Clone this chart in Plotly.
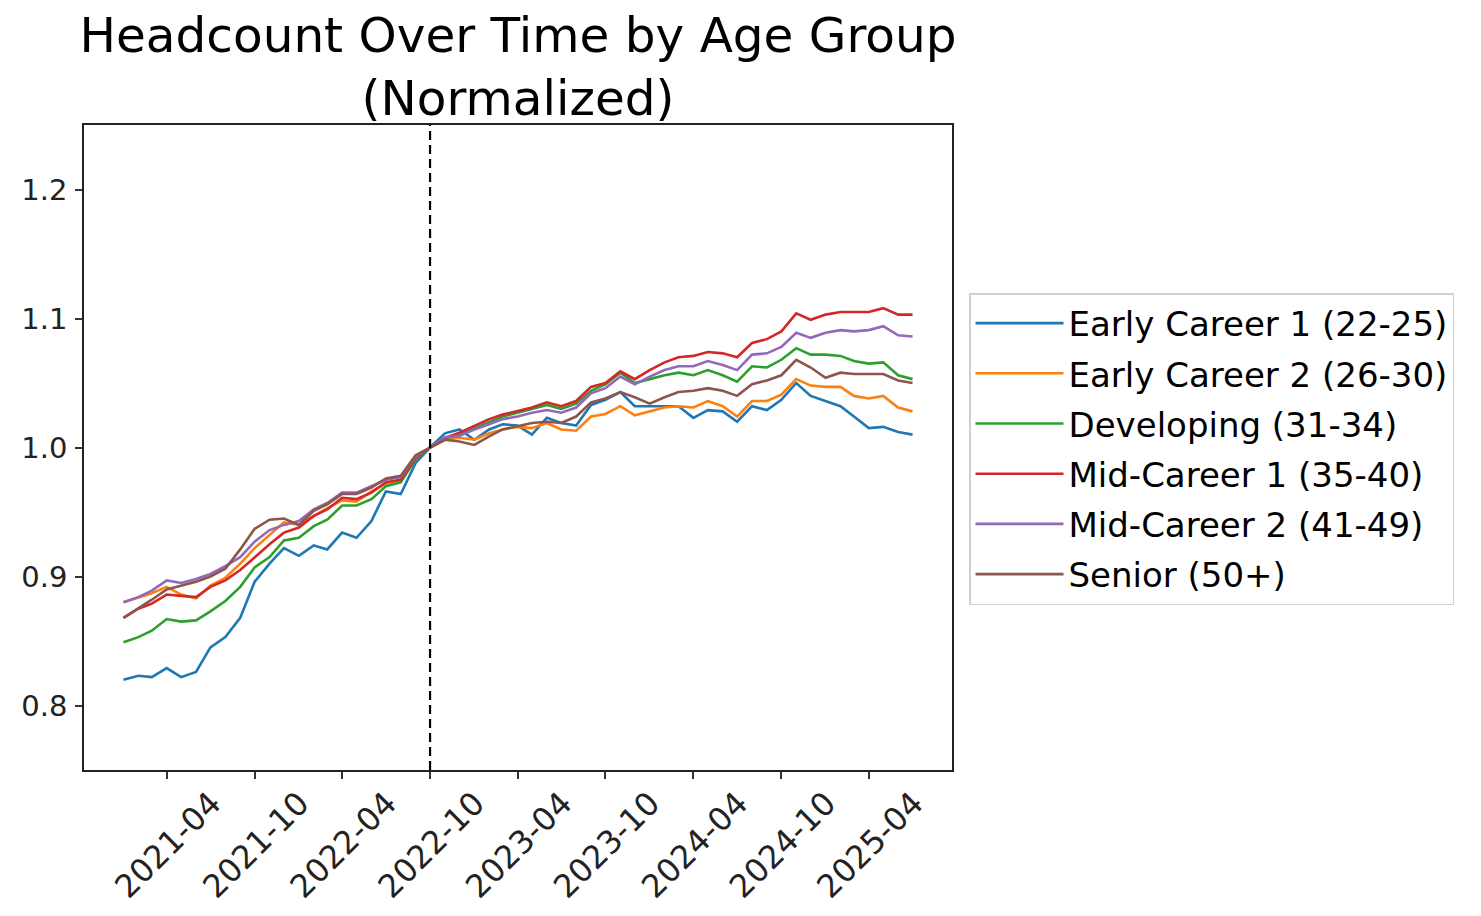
import pandas as pd
import plotly.graph_objects as go

# ---------------- data ----------------
months = pd.date_range("2021-01-01", periods=55, freq="MS")
cutoff_date = "2022-10-01"

series_names = [
    "Early Career 1 (22-25)",
    "Early Career 2 (26-30)",
    "Developing (31-34)",
    "Mid-Career 1 (35-40)",
    "Mid-Career 2 (41-49)",
    "Senior (50+)",
]

early_career_1 = [
    0.820, 0.823, 0.822, 0.829, 0.822, 0.826, 0.845, 0.853, 0.868, 0.896,
    0.910, 0.922, 0.916, 0.924, 0.921, 0.934, 0.930, 0.943, 0.966, 0.964,
    0.988, 1.000, 1.011, 1.014, 1.006, 1.014, 1.018, 1.017, 1.010, 1.023,
    1.019, 1.017, 1.033, 1.037, 1.043, 1.032, 1.032, 1.032, 1.032, 1.023,
    1.029, 1.028, 1.020, 1.032, 1.029, 1.037, 1.050, 1.040, 1.036, 1.032,
    1.024, 1.015, 1.016, 1.012, 1.010,
]
early_career_2 = [
    0.880, 0.884, 0.887, 0.892, 0.886, 0.883, 0.893, 0.899, 0.910, 0.922,
    0.932, 0.942, 0.940, 0.947, 0.953, 0.959, 0.958, 0.966, 0.972, 0.975,
    0.991, 1.000, 1.006, 1.0075, 1.006, 1.011, 1.014, 1.016, 1.015, 1.019,
    1.014, 1.013, 1.024, 1.026, 1.032, 1.025, 1.028, 1.031, 1.032, 1.031,
    1.036, 1.032, 1.024, 1.036, 1.036, 1.041, 1.053, 1.048, 1.047, 1.047,
    1.040, 1.038, 1.040, 1.031, 1.028,
]
developing = [
    0.849, 0.853, 0.858, 0.867, 0.865, 0.866, 0.873, 0.881, 0.892, 0.907,
    0.915, 0.928, 0.930, 0.939, 0.944, 0.955, 0.955, 0.960, 0.970, 0.973,
    0.991, 1.000, 1.007, 1.010, 1.015, 1.020, 1.024, 1.027, 1.030, 1.033,
    1.030, 1.034, 1.044, 1.049, 1.058, 1.050, 1.053, 1.056, 1.058, 1.056,
    1.060, 1.056, 1.051, 1.063, 1.062, 1.068, 1.077, 1.072, 1.072, 1.071,
    1.067, 1.065, 1.066, 1.056, 1.053,
]
mid_career_1 = [
    0.868, 0.875, 0.879, 0.886, 0.885, 0.884, 0.892, 0.897, 0.905, 0.915,
    0.925, 0.934, 0.938, 0.947, 0.952, 0.961, 0.960, 0.965, 0.973, 0.975,
    0.992, 1.000, 1.0075, 1.0115, 1.0165, 1.022, 1.0255, 1.028, 1.031, 1.035,
    1.032, 1.036, 1.047, 1.050, 1.059, 1.053, 1.060, 1.066, 1.070, 1.071,
    1.074, 1.073, 1.070, 1.081, 1.084, 1.090, 1.104, 1.099, 1.103, 1.105,
    1.105, 1.105, 1.108, 1.103, 1.103,
]
mid_career_2 = [
    0.880, 0.884, 0.889, 0.897, 0.895, 0.898, 0.902, 0.908, 0.915, 0.927,
    0.936, 0.940, 0.943, 0.952, 0.957, 0.965, 0.965, 0.970, 0.975, 0.977,
    0.993, 1.000, 1.008, 1.009, 1.014, 1.018, 1.022, 1.024, 1.027, 1.029,
    1.027, 1.031, 1.042, 1.046, 1.055, 1.049, 1.055, 1.060, 1.063, 1.063,
    1.067, 1.064, 1.060, 1.072, 1.073, 1.078, 1.089, 1.085, 1.089, 1.091,
    1.090, 1.091, 1.094, 1.087, 1.086,
]
senior = [
    0.868, 0.875, 0.882, 0.890, 0.893, 0.896, 0.900, 0.906, 0.921, 0.937,
    0.944, 0.945, 0.940, 0.951, 0.956, 0.964, 0.964, 0.969, 0.976, 0.978,
    0.994, 1.000, 1.006, 1.0046, 1.002, 1.0087, 1.014, 1.0165, 1.019, 1.020,
    1.019, 1.024, 1.035, 1.038, 1.043, 1.039, 1.034, 1.039, 1.043, 1.044,
    1.046, 1.044, 1.040, 1.049, 1.052, 1.056, 1.068, 1.062, 1.054, 1.058,
    1.057, 1.057, 1.057, 1.052, 1.050,
]

all_series = [early_career_1, early_career_2, developing,
              mid_career_1, mid_career_2, senior]
colors = ["#1f77b4", "#ff7f0e", "#2ca02c", "#d62728", "#9467bd", "#8c564b"]

y_ticks = [0.8, 0.9, 1.0, 1.1, 1.2]
x_tick_dates = pd.date_range("2021-04-01", "2025-04-01", freq="6MS")

# ---------------- figure ----------------
FONT = "DejaVu Sans"
W, H = 1465, 900
L, R, T, B = 76, 944, 117, 762  # plot area in figure pixels

fig = go.Figure()
for name, vals, col in zip(series_names, all_series, colors):
    fig.add_trace(go.Scatter(
        x=months, y=vals, mode="lines", name=name,
        legendgroup=name,
        line=dict(color=col, width=2.6),
    ))

fig.add_vline(x=cutoff_date, line=dict(color="black", width=2.2, dash="9px,5px"))

pad = (months[-1] - months[0]) * 0.05
x_range = [months[0] - pad, months[-1] + pad]

axis_common = dict(
    showgrid=False, zeroline=False, showline=True, mirror=True,
    linecolor="#222222", linewidth=1.5,
    ticks="outside", ticklen=7, tickwidth=1.5, tickcolor="#333333",
    automargin=False,
)

fig.update_layout(
    width=W, height=H,
    margin=dict(l=L, r=W - R, t=T, b=H - B, autoexpand=False),
    paper_bgcolor="white", plot_bgcolor="white",
    font=dict(family=FONT, color="black"),
    title=dict(
        text="Headcount Over Time by Age Group<br>(Normalized)",
        font=dict(family=FONT, size=48.5, color="black"),
        x=(L + R) / 2 / W, xanchor="center", xref="container",
        y=1 - 44 / H, yanchor="top", yref="container",
    ),
    xaxis=dict(
        range=x_range, type="date",
        tickvals=list(x_tick_dates),
        ticktext=[d.strftime("%Y-%m") for d in x_tick_dates],
        tickangle=-45, ticklabelshift=45, ticklabelstandoff=-7,
        tickfont=dict(family=FONT, size=32, color="#222222"),
        **axis_common,
    ),
    yaxis=dict(
        range=[0.75, 1.25], tickvals=y_ticks,
        ticktext=[f"{v:.1f}" for v in y_ticks],
        ticklabelstandoff=2,
        tickfont=dict(family=FONT, size=29, color="#222222"),
        **axis_common,
    ),
    legend=dict(
        x=(961 - L) / (R - L), y=(B - 285) / (B - T),
        xanchor="left", yanchor="top",
        font=dict(family=FONT, size=34, color="black"),
        bgcolor="white", bordercolor="#d0d0d0", borderwidth=1.5,
        tracegroupgap=3, itemwidth=88,
    ),
    showlegend=True,
)

fig.write_html("out.html")
